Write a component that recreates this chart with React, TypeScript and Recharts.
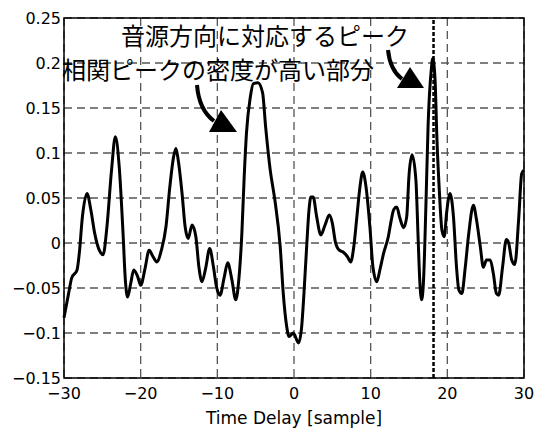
import React from 'react';
import {
  LineChart,
  Line,
  XAxis,
  YAxis,
  CartesianGrid,
  ReferenceLine,
  ReferenceArea,
} from 'recharts';

// time delay [sample] and correlation values
const delays = [
  -30, -29.4, -29.0, -28.3, -28.0, -27.6, -27.0, -26.5, -26.0, -25.4, -24.9, -24.4, -23.8, -23.3,
  -22.8, -22.3, -22.0, -21.7, -21.3, -20.9, -20.4, -20.0, -19.4, -18.9, -18.4, -17.9, -17.3, -16.7,
  -16.2, -15.7, -15.4, -15.1, -14.6, -14.2, -13.8, -13.3, -12.8, -12.4, -12.0, -11.5, -11.0, -10.5,
  -10.1, -9.65, -9.1, -8.65, -8.1, -7.6, -7.2, -6.8, -6.5, -6.2, -5.7, -5.3, -4.7, -4.1, -3.7,
  -3.1, -2.5, -1.8, -1.4, -0.95, -0.65, -0.1, 0.6, 1.0, 1.3, 1.65, 1.96, 2.2, 2.5, 2.96, 3.5,
  4.05, 4.6, 5.0, 5.4, 5.9, 6.4, 6.95, 7.4, 7.8, 8.2, 8.6, 8.96, 9.4, 9.9, 10.3, 10.8, 11.2, 11.7,
  12.3, 12.7, 13.0, 13.4, 13.8, 14.3, 14.7, 15.0, 15.4, 15.9, 16.2, 16.4, 16.65, 16.9, 17.2, 17.5,
  17.9, 18.1, 18.4, 18.65, 18.95, 19.3, 19.6, 19.9, 20.35, 20.8, 21.2, 21.5, 21.9, 22.3, 22.8,
  23.4, 23.8, 24.3, 24.7, 25.1, 25.6, 26.0, 26.4, 26.7, 27.2, 27.7, 28.0, 28.4, 28.8, 29.3, 29.7, 30,
];

const correlation = [
  -0.083, -0.056, -0.039, -0.03, -0.011, 0.029, 0.055, 0.037, 0.011, -0.008, -0.013, 0.018, 0.081, 0.118,
  0.085, 0.011, -0.041, -0.06, -0.045, -0.03, -0.037, -0.047, -0.027, -0.008, -0.015, -0.021, -0.008, 0.018,
  0.062, 0.096, 0.105, 0.092, 0.055, 0.018, 0.005, 0.02, 0.007, -0.027, -0.043, -0.027, -0.006, -0.027,
  -0.049, -0.058, -0.038, -0.022, -0.041, -0.063, -0.041, 0.011, 0.073, 0.122, 0.162, 0.177, 0.178, 0.167, 0.129,
  0.081, 0.048, -0.004, -0.056, -0.093, -0.104, -0.1, -0.111, -0.093, -0.056, -0.004, 0.037, 0.051, 0.051, 0.029, 0.009,
  0.02, 0.031, 0.022, 0.001, -0.008, -0.01, -0.015, -0.021, -0.004, 0.029, 0.062, 0.079, 0.062, 0.018, -0.027, -0.043, -0.03, -0.011,
  0.007, 0.026, 0.037, 0.04, 0.028, 0.017, 0.029, 0.075, 0.098, 0.07, 0.003, -0.041, -0.063, -0.041, 0.04, 0.133,
  0.192, 0.205, 0.181, 0.114, 0.059, 0.014, 0.007, 0.033, 0.055, 0.029, -0.027, -0.052, -0.056, -0.03, 0.011,
  0.042, 0.026, -0.004, -0.027, -0.019, -0.019, -0.034, -0.056, -0.058, -0.027, 0.004, 0.0, -0.019, -0.024, 0.026, 0.077, 0.081,
];

const xTicks = [-30, -20, -10, 0, 10, 20, 30];
const yTicks = [-0.15, -0.1, -0.05, 0, 0.05, 0.1, 0.15, 0.2, 0.25];
const sourceDelay = 18.2;

const labelPeak = '音源方向に対応するピーク';
const labelDense = '相関ピークの密度が高い部分';
const xLabel = 'Time Delay [sample]';

const data = delays.map((d, i) => ({ d, v: correlation[i] }));

const tickFont = { fill: '#000', fontSize: 16, fontFamily: 'DejaVu Sans' };
const fmt = (v: number) => String(v).replace('-', '\u2212');

export default function App() {
  return (
    <div style={{ position: 'absolute', left: 0, top: 0, width: 542, height: 428, background: '#fff' }}>
      <LineChart width={542} height={428} data={data} margin={{ top: 18, right: 18, left: 0, bottom: 0 }}>
        <CartesianGrid stroke="#555" strokeDasharray="8 5" strokeWidth={1.3} />
        <XAxis
          dataKey="d"
          type="number"
          domain={[-30, 30]}
          ticks={xTicks}
          tickFormatter={fmt}
          tick={tickFont}
          tickLine={false}
          axisLine={false}
          tickSize={3}
          tickMargin={7}
          height={50}
          label={{ value: xLabel, position: 'insideBottom', offset: 4, fill: '#000', fontSize: 17, fontFamily: 'DejaVu Sans' }}
        />
        <YAxis
          type="number"
          domain={[-0.15, 0.25]}
          ticks={yTicks}
          tickFormatter={fmt}
          tick={tickFont}
          tickLine={false}
          axisLine={false}
          tickSize={3}
          tickMargin={0}
          width={64}
        />
        <ReferenceArea x1={-30} x2={30} y1={-0.15} y2={0.25} fill="none" stroke="#000" strokeWidth={1.5} />
        <ReferenceLine x={sourceDelay} stroke="#000" strokeWidth={2.5} strokeDasharray="4 2" />
        <Line
          dataKey="v"
          type="monotone"
          stroke="#000"
          strokeWidth={3}
          dot={false}
          isAnimationActive={false}
        />
      </LineChart>
      <svg
        width={542}
        height={428}
        style={{ position: 'absolute', left: 0, top: 0, pointerEvents: 'none' }}
      >
        <g fontFamily="Noto Sans CJK JP" fontSize={24} fill="#000">
          <text x={121} y={34} dominantBaseline="central">{labelPeak}</text>
          <text x={62} y={68} dominantBaseline="central">{labelDense}</text>
        </g>
        <path d="M197,85 Q199,110 214,121" fill="none" stroke="#000" strokeWidth={4} />
        <polygon points="221,110 209,132 237,132" fill="#000" />
        <path d="M388,50 Q390,70 402,79" fill="none" stroke="#000" strokeWidth={4} />
        <polygon points="410,67 397,88 424,88" fill="#000" />
      </svg>
    </div>
  );
}
